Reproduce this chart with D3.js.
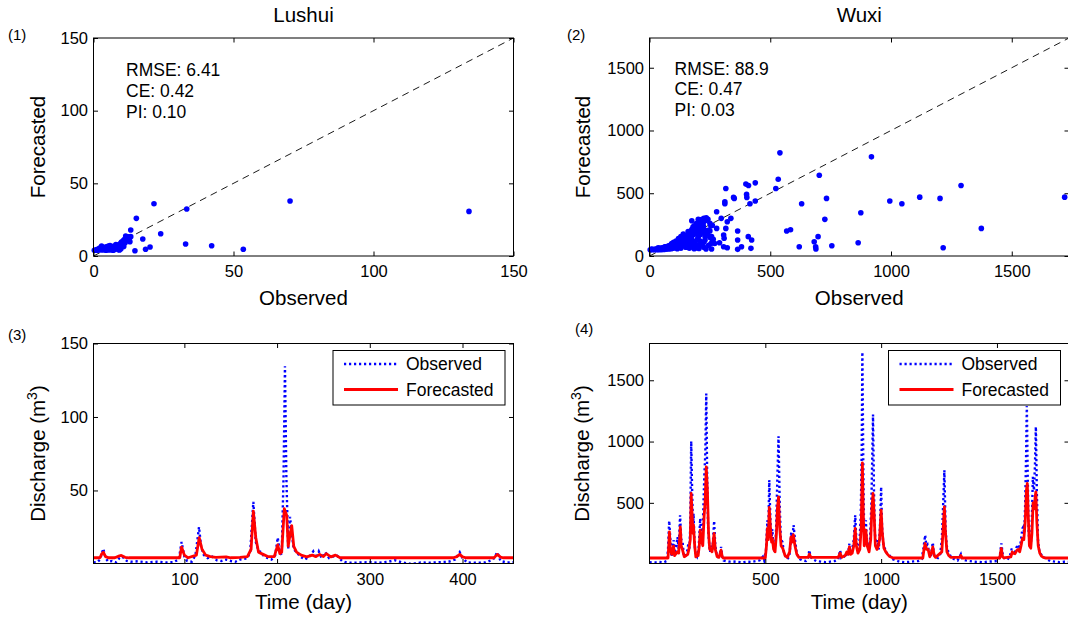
<!DOCTYPE html>
<html><head><meta charset="utf-8">
<script src="https://cdn.jsdelivr.net/npm/d3@7"></script>
<style>
body{margin:0;background:#fff}
svg{display:block}
text{font-family:"Liberation Sans",Arial,Helvetica,sans-serif;fill:#000}
</style>
</head><body>
<svg id="chart" width="1068" height="621"></svg>
<script>
// ---------------- DATA ----------------
const stationNames = ["Lushui", "Wuxi"];
const panelTags = ["(1)", "(2)", "(3)", "(4)"];
const lushuiStats = ["RMSE: 6.41", "CE: 0.42", "PI: 0.10"];
const wuxiStats = ["RMSE: 88.9", "CE: 0.47", "PI: 0.03"];
const legendLabels = ["Observed", "Forecasted"];

const lushuiScatterTicks = [0, 50, 100, 150];
const wuxiScatterTicks = [0, 500, 1000, 1500];
const lushuiTimeTicks = [100, 200, 300, 400];
const lushuiFlowTicks = [50, 100, 150];
const wuxiTimeTicks = [500, 1000, 1500];
const wuxiFlowTicks = [500, 1000, 1500];

// [observed, forecasted]
const lushuiScatter = [
 [0.3,4],[0.8,4.1],[1.2,4],[1.6,4.3],[2,4.2],[2.4,4.8],[2.9,6.9],[3.3,5.5],[3.7,4.5],[4.1,5.2],
 [4.5,6.4],[5,4.1],[5.3,6.9],[5.6,5.8],[6,4.2],[6.3,6.2],[6.7,5.1],[7.1,6.6],[7.5,4.4],[7.9,5.6],
 [8.3,6.9],[8.6,7.6],[9,5.8],[9.3,4.1],[9.6,8.5],[10,9.6],[10.3,7.2],[10.6,10.5],[11,11.3],[11.3,9.1],
 [11.6,12.2],[12,11.8],[12.4,13.2],[12.8,10.4],[13,9.8],[13.3,13.3],[11.5,13.8],[10.8,6.5],[9.8,5],[8.8,4.4],
 [7,4],[4.4,4],[3.1,4.1],[2.2,5.5],[1.4,4.6],[5.9,7.2],[8,7.8],[13.3,17.9],[14.8,3.6],[15.3,25.9],
 [17.6,11.7],[18.6,4.6],[20.2,6.2],[21.6,36],[24,15.3],[32.9,8.3],[33.3,32.3],[42.2,7.1],[53.5,4.6],[70.2,37.8],
 [134.1,30.7]
];

const wuxiScatter = [
 [540,822],[919,790],[703,644],[533,612],[523,538],[316,538],[438,583],[399,573],[410,562],[348,467],
 [351,459],[312,432],[312,416],[402,491],[403,467],[416,416],[438,438],[733,459],[630,416],[995,438],
 [1045,416],[1119,469],[1203,459],[1290,562],[1719,469],[875,345],[726,292],[568,199],[584,209],[1374,220],
 [1216,66],[620,74],[682,114],[688,74],[689,56],[698,154],[755,82],[864,106],[365,199],[365,127],
 [307,167],[316,220],[337,300],[278,352],[297,300],[254,239],[322,273],[309,141],[307,74],[409,154],
 [423,127],[420,61],[365,53],[381,74],[290,106],[322,66],[264,133],[257,56],[234,56],[202,74],
 [237,292],[202,292],[175,281],[223,233],[188,193],[243,204],[278,220],[257,154],[230,127],[202,154],
 [216,100],[175,127],[147,154],[160,74],[119,100],[133,127],[105,80],[92,100],[64,74],[36,66],[9,56],
 [3,50],[8,51],[14,52],[20,54],[27,55],[33,58],[40,60],[47,63],[54,66],[61,70],[68,73],[75,78],
 [82,84],[90,90],[97,96],[104,103],[111,110],[118,118],[126,126],[133,134],[140,142],[148,152],[155,162],
 [163,172],[170,183],[178,195],[186,208],[194,220],[202,235],[210,250],[218,262],[226,275],[234,285],
 [242,292],[250,260],[260,245],[150,110],[158,125],[166,140],[174,155],[182,170],[190,185],[198,198],
 [206,212],[214,228],[222,245],[140,95],[130,85],[120,75],[110,68],[100,62],[90,58],[80,56],[70,54],
 [60,52],[50,51],[40,50],[30,50],[20,50],[160,95],[170,85],[180,100],[190,120],[200,140],[210,170],
 [220,190],[230,205],[240,180],[250,150],[260,120],[270,100],[180,75],[195,65],[210,90],[225,110],
 [145,130],[155,145],[165,160],[175,210],[185,240],[195,260],[205,282],[215,290],[225,300],[235,305],
 [120,140],[130,155],[110,120],[100,110],[115,85],[125,100],[135,115],[85,70],[95,78],[105,88],
 [65,62],[75,66],[45,55],[55,58],[150,70],[165,62],[185,58],[205,60],[225,70],[245,85],[255,100],
 [130,62],[115,58],[170,115],[190,95],[210,120],[230,155],[250,200],[140,175],[160,195],[180,230]
];

// [day, discharge]
const lushuiObserved = [
 [2,1],[6,1.2],[9,3],[12.6,10.4],[15,4],[18,1.5],[22,2],[26,1],[30,4],[32,5],[35,4],[38,2],[42,1.5],
 [50,1.8],[60,1],[70,1.5],[80,1],[88,1.2],[94,3],[97,14.9],[100,5],[103,2],[108,1.5],[112,6],[115.8,25.1],
 [118,12],[121,6],[125,4],[130,5],[135,2.5],[140,2],[145,3],[150,2],[155,1.5],[160,3],[165,3.5],[168,4],
 [171,8],[174.4,42.2],[177,15],[180,9],[183,8],[186,5],[190,4],[194,3],[198,6],[200.7,17.9],[203,8],
 [205,6],[207,60],[208.5,134.5],[210,60],[212,10],[214,32],[216,20],[218,10],[221,8],[225,5],[230,3],
 [235,5],[239,8.5],[242,4],[245,8.5],[248,4],[252,8],[256,4],[260,5],[265,5.5],[270,2],[275,1],[280,0.8],
 [290,1],[300,1.2],[310,0.8],[320,1.5],[327,2.5],[335,1],[345,0],[355,1],[365,0.8],[375,1.2],[385,1.5],
 [392,3],[397,8],[400,4],[405,1],[415,0.8],[425,1],[433,3],[437.5,8],[441,2],[448,1],[455,1.2]
];
const lushuiForecast = [
 [2,4.2],[9,4.2],[11,7],[12.6,8],[15,5],[18,4.2],[25,4.2],[30,5.5],[32,5.8],[36,4.5],[40,4.2],[95,4.2],
 [97,11.5],[100,6],[104,4.2],[113,6],[116,17.9],[119,10],[123,6],[128,5],[134,4.5],[145,4.8],[150,4.2],
 [160,4.5],[168,5],[172,10],[174.4,36],[177,18],[180,8],[185,6.5],[190,5],[197,5],[200.7,13],[203,7],
 [205,8],[207.8,37.6],[210.4,33],[212,12],[214,20],[215.8,26],[218,12],[221,8],[226,6],[232,4.8],[238,6],
 [242,5],[246,6.5],[250,5],[253,7],[258,4.8],[263,6],[268,4.2],[390,4.2],[394,5],[397,6.5],[400,4.8],
 [404,4.2],[434,4.2],[437.5,6.5],[441,4.6],[444,4.2],[455,4.2]
];

const wuxiObserved = [
 [0,15],[20,12],[40,18],[60,14],[75,25],[80,120],[85,353],[90,200],[95,60],[100,150],[104,196],[108,90],
 [115,140],[121,220],[126,120],[132,399],[137,200],[142,196],[148,80],[155,60],[162,100],[168,169],[172,120],
 [176,300],[180,1002],[184,600],[188,300],[190,413],[194,200],[198,80],[205,60],[212,120],[219,372],[224,200],
 [230,300],[237,739],[241,900],[245,1391],[249,700],[253,300],[258,150],[262,100],[267,150],[272,120],[279,353],
 [284,150],[290,80],[296,60],[303,70],[309,141],[314,60],[320,30],[330,25],[345,20],[360,22],[380,18],[400,15],
 [420,20],[440,18],[460,25],[475,30],[489,60],[495,30],[503,120],[509,358],[513,250],[517,685],[522,350],
 [527,200],[530,285],[535,150],[540,100],[546,250],[552,700],[557,1043],[562,500],[567,200],[574,180],[580,100],
 [588,60],[595,40],[603,60],[608,150],[612,263],[616,200],[622,318],[628,200],[635,100],[642,60],[650,40],
 [660,30],[675,25],[685,50],[690,114],[695,60],[705,40],[720,25],[740,20],[760,15],[780,20],[800,25],[815,40],
 [823,114],[828,50],[840,60],[848,90],[856,60],[863,168],[868,80],[875,120],[882,200],[888,399],[893,200],
 [900,100],[906,150],[912,400],[916,900],[919,1730],[923,800],[927,200],[930,300],[934,358],[938,200],[945,120],
 [952,200],[958,500],[962,900],[965,1220],[969,600],[973,250],[979,150],[986,196],[990,120],[995,300],[1000,630],
 [1004,300],[1010,150],[1018,120],[1025,90],[1031,90],[1040,60],[1050,40],[1065,30],[1080,20],[1100,15],
 [1120,18],[1140,22],[1160,25],[1175,40],[1182,120],[1190,236],[1195,150],[1200,160],[1207,100],[1214,60],
 [1219,120],[1223,177],[1228,80],[1235,60],[1245,50],[1255,80],[1262,200],[1268,500],[1273,766],[1278,300],
 [1283,150],[1290,100],[1298,70],[1305,50],[1315,40],[1330,30],[1344,80],[1350,40],[1365,30],[1380,25],
 [1400,20],[1420,18],[1440,15],[1460,20],[1480,22],[1500,25],[1512,60],[1519,169],[1525,80],[1535,40],
 [1545,35],[1555,60],[1563,120],[1571,120],[1578,100],[1585,140],[1592,160],[1598,120],[1604,200],[1610,291],
 [1614,304],[1618,250],[1622,500],[1626,900],[1629,1290],[1633,700],[1637,250],[1641,180],[1646,150],
 [1650,300],[1655,712],[1660,600],[1664,800],[1668,1120],[1672,600],[1677,200],[1683,100],[1690,80],
 [1700,60],[1715,40],[1730,25],[1750,20],[1770,15],[1790,20],[1811,18]
];
const wuxiForecast = [
 [0,50],[80,50],[83,150],[86,263],[90,120],[96,80],[100,120],[104,147],[108,70],[120,100],[126,90],[130,200],
 [133,304],[137,150],[142,120],[150,60],[165,80],[170,120],[176,200],[180,576],[184,400],[188,250],[190,318],
 [195,150],[200,60],[210,70],[215,150],[219,277],[224,200],[230,150],[236,400],[240,500],[245,793],[250,600],
 [255,250],[260,120],[270,100],[276,200],[279,250],[284,120],[292,60],[300,55],[309,114],[314,60],[318,50],
 [500,50],[505,150],[509,291],[513,200],[517,462],[522,300],[527,180],[530,209],[536,120],[542,100],[548,250],
 [552,450],[557,549],[562,300],[568,150],[575,130],[585,70],[595,55],[605,100],[611,223],[616,180],[621,240],
 [628,150],[636,80],[645,55],[685,55],[690,81],[697,55],[815,55],[823,90],[830,55],[845,70],[852,100],[858,80],
 [863,141],[868,80],[875,90],[882,150],[888,291],[893,150],[900,90],[908,120],[914,300],[919,826],[923,400],
 [927,150],[930,200],[934,277],[940,150],[948,100],[955,200],[960,450],[965,576],[970,400],[975,150],[982,120],
 [988,150],[993,200],[1000,440],[1005,250],[1012,130],[1020,100],[1028,80],[1035,65],[1045,55],[1055,50],
 [1180,50],[1185,120],[1190,168],[1196,120],[1203,120],[1210,60],[1218,100],[1223,140],[1229,70],[1235,55],
 [1262,100],[1268,300],[1273,467],[1278,250],[1284,100],[1292,70],[1300,55],[1340,55],[1344,70],[1350,50],
 [1512,50],[1516,100],[1519,128],[1524,60],[1530,50],[1560,60],[1566,100],[1571,90],[1578,85],[1585,110],
 [1592,120],[1598,100],[1604,150],[1610,209],[1616,200],[1622,350],[1627,600],[1631,658],[1635,400],[1640,150],
 [1646,130],[1651,250],[1656,500],[1661,450],[1665,550],[1668,590],[1672,350],[1678,150],[1685,90],[1692,65],
 [1700,55],[1710,50],[1811,50]
];

// ---------------- DRAWING ----------------
const svg = d3.select("#chart");
const BLUE = "#0000ff", RED = "#ff0000";
const TICK = 16.5, LABEL = 20.5, ANNO = 17.5;
const fmt = d3.format("d");

const boxes = [
  {x0:93.5, x1:513.5, y0:38, y1:256},
  {x0:649.5, x1:1069, y0:38, y1:256},
  {x0:93.5, x1:513.5, y0:343.5, y1:563.5},
  {x0:649.5, x1:1069, y0:343.5, y1:563.5}
];
const domains = [
  {x:[0,150], y:[0,150]},
  {x:[0,1737], y:[0,1737]},
  {x:[2,455], y:[0.3,150]},
  {x:[0,1811], y:[5,1800]}
];

function makeScales(i){
  const b = boxes[i], d = domains[i];
  return {
    x: d3.scaleLinear().domain(d.x).range([b.x0, b.x1]),
    y: d3.scaleLinear().domain(d.y).range([b.y1, b.y0])
  };
}

function axes(i, s, xt, yt){
  const b = boxes[i];
  const g = svg.append("g");
  const ax = (gen, tr, vals, showLabels, pad) => {
    const a = gen.tickValues(vals).tickSizeInner(-4.5).tickSizeOuter(0).tickPadding(pad)
      .tickFormat(showLabels ? fmt : () => "");
    const gg = g.append("g").attr("transform", tr).call(a);
    gg.select(".domain").remove();
    gg.selectAll("line").attr("stroke","#000").attr("stroke-width",1);
    gg.selectAll("text").attr("font-size",TICK).attr("font-family",'"Liberation Sans",Arial,sans-serif').attr("fill","#000");
    return gg;
  };
  ax(d3.axisBottom(s.x), `translate(0,${b.y1})`, xt, true, 9.5);
  ax(d3.axisTop(s.x), `translate(0,${b.y0})`, xt, false, 0);
  ax(d3.axisLeft(s.y), `translate(${b.x0},0)`, yt, true, 5.5);
  ax(d3.axisRight(s.y), `translate(${b.x1},0)`, yt, false, 0);
  g.append("rect").attr("x",b.x0).attr("y",b.y0)
    .attr("width",b.x1-b.x0).attr("height",b.y1-b.y0)
    .attr("fill","none").attr("stroke","#000").attr("stroke-width",1);
}

function clip(i){
  const b = boxes[i];
  const id = "clip"+i;
  svg.append("clipPath").attr("id",id).append("rect")
    .attr("x",b.x0).attr("y",b.y0).attr("width",b.x1-b.x0).attr("height",b.y1-b.y0);
  return `url(#${id})`;
}

function scatterPanel(i, data, ticks, stats, title, statX, statY){
  const s = makeScales(i), b = boxes[i], d = domains[i];
  const g = svg.append("g").attr("clip-path", clip(i));
  g.append("line")
    .attr("x1", s.x(d.x[0])).attr("y1", s.y(d.y[0]))
    .attr("x2", s.x(d.x[1])).attr("y2", s.y(d.y[1]))
    .attr("stroke","#000").attr("stroke-width",0.9).attr("stroke-dasharray","7,5");
  svg.append("g").selectAll("circle").data(data).join("circle")
    .attr("cx", p => s.x(p[0])).attr("cy", p => s.y(p[1]))
    .attr("r", 2.8).attr("fill", BLUE);
  axes(i, s, ticks, ticks);
  stats.forEach((line, k) => {
    svg.append("text").attr("x", statX).attr("y", statY + k*20.8).attr("font-size", ANNO).text(line);
  });
  svg.append("text").attr("x",(b.x0+b.x1)/2).attr("y",22).attr("text-anchor","middle")
    .attr("font-size",LABEL).text(title);
  svg.append("text").attr("x",(b.x0+b.x1)/2).attr("y",b.y1+49).attr("text-anchor","middle")
    .attr("font-size",LABEL).text("Observed");
}

function seriesPanel(i, obs, fc, xt, yt, ylabX){
  const s = makeScales(i), b = boxes[i];
  const line = d3.line().x(p => s.x(p[0])).y(p => s.y(p[1]));
  const g = svg.append("g").attr("clip-path", clip(i));
  g.append("path").datum(obs).attr("d", line).attr("fill","none")
    .attr("stroke", BLUE).attr("stroke-width", 2.4).attr("stroke-dasharray","2.2,2.8");
  g.append("path").datum(fc).attr("d", line).attr("fill","none")
    .attr("stroke", RED).attr("stroke-width", 2.8).attr("stroke-linejoin","round");
  axes(i, s, xt, yt);
  // legend
  const lw = 172, lh = 54.5;
  const lx = b.x1 - 8.5 - lw, ly = b.y0 + 7;
  const lg = svg.append("g");
  lg.append("rect").attr("x",lx).attr("y",ly).attr("width",lw).attr("height",lh)
    .attr("fill","#fff").attr("stroke","#000").attr("stroke-width",1);
  const styles = [{c:BLUE, w:2.4, dash:"2.2,2.8"}, {c:RED, w:2.8, dash:null}];
  legendLabels.forEach((lab, k) => {
    const yy = ly + 13.5 + k*25.5;
    const ln = lg.append("line").attr("x1",lx+11).attr("x2",lx+65).attr("y1",yy).attr("y2",yy)
      .attr("stroke",styles[k].c).attr("stroke-width",styles[k].w);
    if(styles[k].dash) ln.attr("stroke-dasharray",styles[k].dash);
    lg.append("text").attr("x",lx+73).attr("y",yy).attr("dy","0.36em").attr("font-size",ANNO).text(lab);
  });
  // labels
  svg.append("text").attr("x",(b.x0+b.x1)/2).attr("y",b.y1+45).attr("text-anchor","middle")
    .attr("font-size",LABEL).text("Time (day)");
  const yl = svg.append("text").attr("transform",`translate(${ylabX},${(b.y0+b.y1)/2}) rotate(-90)`)
    .attr("text-anchor","middle").attr("dy","0.36em").attr("font-size",LABEL);
  yl.append("tspan").text("Discharge (m");
  yl.append("tspan").attr("font-size",14).attr("baseline-shift","super").text("3");
  yl.append("tspan").text(")");
}

scatterPanel(0, lushuiScatter, lushuiScatterTicks, lushuiStats, stationNames[0], 126, 76);
scatterPanel(1, wuxiScatter, wuxiScatterTicks, wuxiStats, stationNames[1], 674.5, 74.5);
seriesPanel(2, lushuiObserved, lushuiForecast, lushuiTimeTicks, lushuiFlowTicks, 37.5);
seriesPanel(3, wuxiObserved, wuxiForecast, wuxiTimeTicks, wuxiFlowTicks, 582);

// y labels for scatter panels
[[37.5,0],[583,1]].forEach(([x,i]) => {
  const b = boxes[i];
  svg.append("text").attr("transform",`translate(${x},${(b.y0+b.y1)/2}) rotate(-90)`)
    .attr("text-anchor","middle").attr("dy","0.36em").attr("font-size",LABEL).text("Forecasted");
});

// panel tags
const tagPos = [[8,40],[567,40],[8,340],[575,334]];
panelTags.forEach((t,k) => {
  svg.append("text").attr("x",tagPos[k][0]).attr("y",tagPos[k][1]).attr("font-size",15).text(t);
});
</script>
</body></html>
